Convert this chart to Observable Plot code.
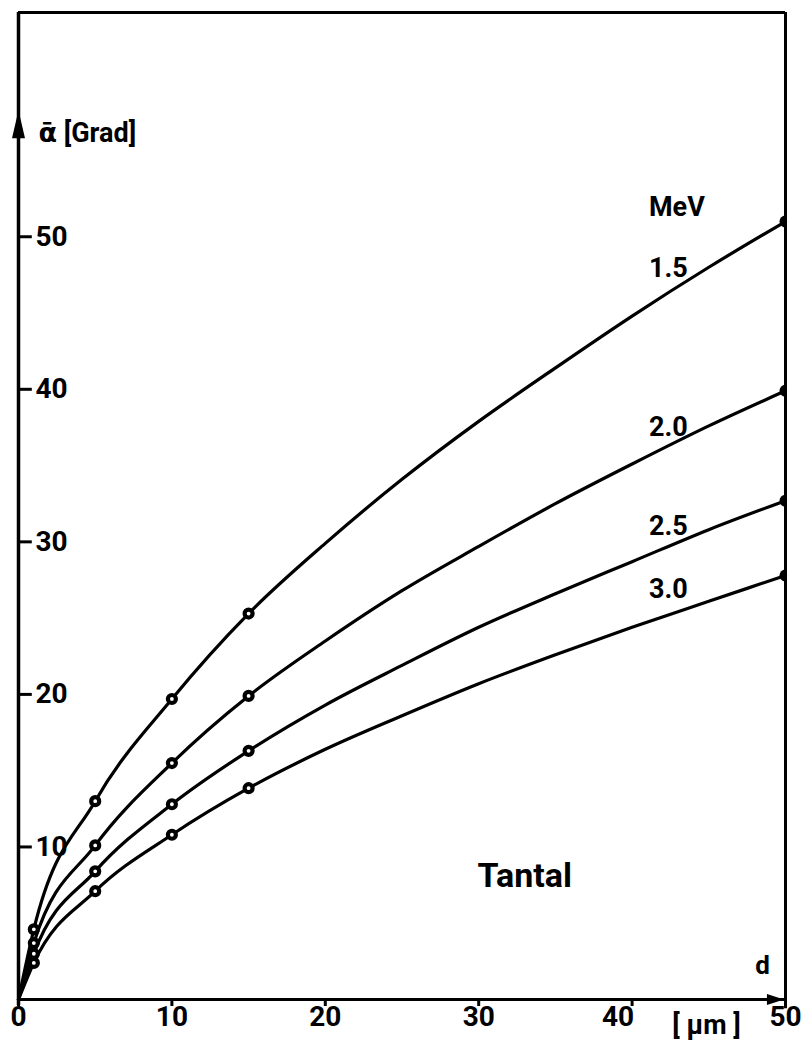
<!DOCTYPE html>
<html>
<head>
<meta charset="utf-8">
<script src="https://cdn.jsdelivr.net/npm/d3@7"></script>
<script src="https://cdn.jsdelivr.net/npm/@observablehq/plot@0.6"></script>
<style>
  html, body { margin: 0; padding: 0; background: #fff; }
  svg { display: block; }
</style>
</head>
<body>
<script>
// Mean scattering angle (degrees) behind a tantalum foil of thickness d (µm)
const distances = [0, 1, 5, 10, 15, 20, 25, 30, 35, 40, 45, 50];
const measured = [1, 5, 10, 15];          // thicknesses carrying a point marker
const energies = ["1.5", "2.0", "2.5", "3.0"];
const alpha15 = [0, 4.6, 13.0, 19.7, 25.3, 29.9, 34.1, 37.9, 41.4, 44.8, 48.0, 51.0];
const alpha20 = [0, 3.7, 10.1, 15.5, 19.9, 23.5, 26.8, 29.7, 32.5, 35.1, 37.6, 39.9];
const alpha25 = [0, 3.0, 8.4, 12.8, 16.3, 19.3, 21.9, 24.4, 26.6, 28.7, 30.8, 32.7];
const alpha30 = [0, 2.4, 7.1, 10.8, 13.85, 16.4, 18.6, 20.7, 22.6, 24.4, 26.1, 27.8];
const xTicks = [0, 10, 20, 30, 40, 50];
const yTicks = [10, 20, 30, 40, 50];

const series = [alpha15, alpha20, alpha25, alpha30];
const rows = energies.flatMap((e, i) =>
  distances.map((d, j) => ({energy: e, d, alpha: series[i][j]})));
const points = rows.filter(r => measured.includes(r.d));
const ends = rows.filter(r => r.d === 50);

const xMax = 50, yMax = 64.7;
const font = "Roboto, 'DejaVu Sans', sans-serif";

// filled, elongated arrow heads for the axis ends (tip at the anchor point)
const headY = {draw(ctx) { ctx.moveTo(0, 0); ctx.lineTo(-6.5, 28); ctx.lineTo(6.5, 28); ctx.closePath(); }};
const headX = {draw(ctx) { ctx.moveTo(0, 0); ctx.lineTo(-5.5, 17); ctx.lineTo(5.5, 17); ctx.closePath(); }};

const label = (text, x, y, opts = {}) =>
  Plot.text([text], {x: () => x, y: () => y, text: d => d, fontSize: 27, fontWeight: 700,
    fontFamily: font, fill: "black", textAnchor: "start", ...opts});

const chart = Plot.plot({
  width: 808,
  height: 1049,
  marginTop: 12,
  marginBottom: 50,
  marginLeft: 18,
  marginRight: 23,
  style: {background: "white", fontFamily: font},
  x: {domain: [0, xMax], label: null},
  y: {domain: [0, yMax], label: null},
  marks: [
    // frame: top edge, right edge, axes
    Plot.ruleY([yMax], {strokeWidth: 3}),
    Plot.ruleX([xMax], {y1: -0.6, y2: yMax, strokeWidth: 3}),
    Plot.ruleX([0], {y1: -0.4, y2: yMax, strokeWidth: 3.5}),
    Plot.ruleY([0], {strokeWidth: 3}),
    Plot.axisX({ticks: xTicks, tickSize: 7, strokeWidth: 3, tickFormat: () => "", label: null}),
    Plot.axisY({ticks: [], label: null}),
    // inward ticks on the angle axis
    Plot.ruleY(yTicks, {x1: 0, x2: 0.9, strokeWidth: 3}),
    Plot.dot([0], {x: 0, y: () => 58.3, symbol: headY, fill: "black", stroke: "none"}),
    Plot.dot([0], {x: () => 49.9, y: 0, symbol: headX, rotate: 90, fill: "black", stroke: "none"}),

    // tick labels
    Plot.text(xTicks.filter(t => t !== 40), {x: d => d, frameAnchor: "bottom", dy: 26,
      text: d => String(d), fontSize: 28, fontWeight: 700, fontFamily: font}),
    Plot.text([40], {x: d => d, frameAnchor: "bottom", dy: 26, dx: 2, textAnchor: "end",
      text: d => String(d), fontSize: 28, fontWeight: 700, fontFamily: font}),
    Plot.text(yTicks, {y: d => d, frameAnchor: "left", dx: 17, textAnchor: "start",
      text: d => String(d), fontSize: 28, fontWeight: 700, fontFamily: font}),

    // curves and measured points
    Plot.line(rows, {x: "d", y: "alpha", z: "energy", curve: "monotone-x", stroke: "black", strokeWidth: 3.2}),
    Plot.dot(points, {x: "d", y: "alpha", r: 4, fill: "white", stroke: "black", strokeWidth: 4.2}),
    Plot.dot(ends, {x: "d", y: "alpha", r: 6, fill: "black", clip: true}),

    // annotations
    label("ᾱ [Grad]", 1.3, 56.8),
    label("MeV", 41.1, 51.9),
    ...energies.map((e, i) => label(e, 41.1, [47.9, 37.5, 31.0, 26.9][i], {letterSpacing: "-2px"})),
    label("Tantal", 33.0, 8.06, {textAnchor: "middle", fontSize: 34}),
    label("d", 48.5, 2.2, {textAnchor: "middle", fontSize: 26}),
    label("[ µm ]", 44.85, 0, {textAnchor: "middle", dy: 26, fontSize: 27})
  ]
});

document.body.appendChild(chart);
</script>
</body>
</html>
